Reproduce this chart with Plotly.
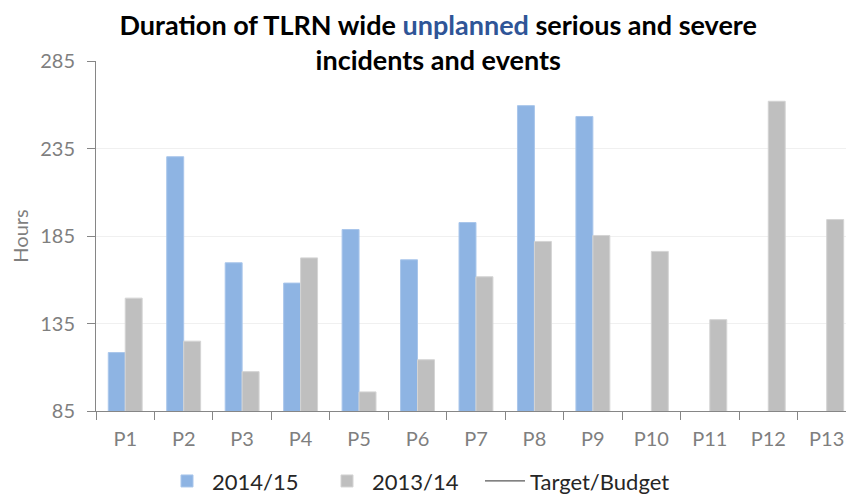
import plotly.graph_objects as go

categories = ["P1", "P2", "P3", "P4", "P5", "P6", "P7", "P8", "P9", "P10", "P11", "P12", "P13"]
series_2014_15 = [118.4, 230.3, 169.7, 158.1, 188.7, 171.4, 192.7, 259.5, 253.3, None, None, None, None]
series_2013_14 = [149.5, 124.9, 107.5, 172.5, 95.9, 114.3, 161.7, 181.9, 185.3, 176.2, 137.2, 262.0, 194.4]
target_budget = [None] * 13
y_ticks = [85, 135, 185, 235, 285]

FONT = "Lato"
AXIS_GREY = "#868686"
LABEL_GREY = "#7F7F7F"

fig = go.Figure()
fig.add_trace(go.Bar(x=categories, y=series_2014_15, name="2014/15",
                     marker=dict(color="#8EB4E3", line=dict(color="#A9C6EB", width=1))))
fig.add_trace(go.Bar(x=categories, y=series_2013_14, name="2013/14",
                     marker=dict(color="#BFBFBF", line=dict(color="#D4D4D4", width=1))))
fig.add_trace(go.Scatter(x=categories, y=target_budget, name="Target/Budget", mode="lines",
                         line=dict(color="#595959", width=1.2), legend="legend2"))

legend_common = dict(
    orientation="h", xref="container", yref="container",
    xanchor="left", y=0.026, yanchor="middle",
    font=dict(family=FONT, size=22, color="#262626"),
    itemwidth=40, tracegroupgap=0, bgcolor="rgba(0,0,0,0)",
)

fig.update_layout(
    width=846, height=494,
    margin=dict(l=96, r=0, t=61, b=83, autoexpand=False),
    paper_bgcolor="white", plot_bgcolor="white",
    barmode="group", bargap=0.42, bargroupgap=0,
    font=dict(family=FONT, color=LABEL_GREY),
    title=dict(
        text="Duration of TLRN wide <span style='color:#2F5597'>unplanned</span> serious and severe<br>incidents and events",
        font=dict(family=FONT, size=27, color="black", weight="bold"),
        x=0.518, xanchor="center", y=0.93, yanchor="top",
    ),
    legend=dict(legend_common, x=162 / 846, entrywidth=105, entrywidthmode="pixels"),
    legend2=dict(legend_common, x=480 / 846),
    showlegend=True,
)
fig.update_xaxes(
    type="category", range=[-0.5, 12.33], automargin=False,
    showline=True, linecolor=AXIS_GREY, linewidth=1,
    ticks="outside", tickson="boundaries", ticklen=8, tickcolor=AXIS_GREY,
    tickfont=dict(family=FONT, size=20, color=LABEL_GREY),
    showgrid=False, ticklabelstandoff=10,
)
fig.update_yaxes(
    range=[85, 285], tickvals=y_ticks, automargin=False,
    showline=True, linecolor=AXIS_GREY, linewidth=1,
    ticks="outside", ticklen=8, tickcolor=AXIS_GREY,
    tickfont=dict(family=FONT, size=20, color=LABEL_GREY),
    showgrid=True, gridcolor="#F0F0F0", gridwidth=1,
    zeroline=False, ticklabelstandoff=8,
    title=dict(text="Hours", font=dict(family=FONT, size=20, color=LABEL_GREY), standoff=6),
)

fig.write_html("out.html", config={"displayModeBar": False},
               post_script="document.body.style.margin='0';")
